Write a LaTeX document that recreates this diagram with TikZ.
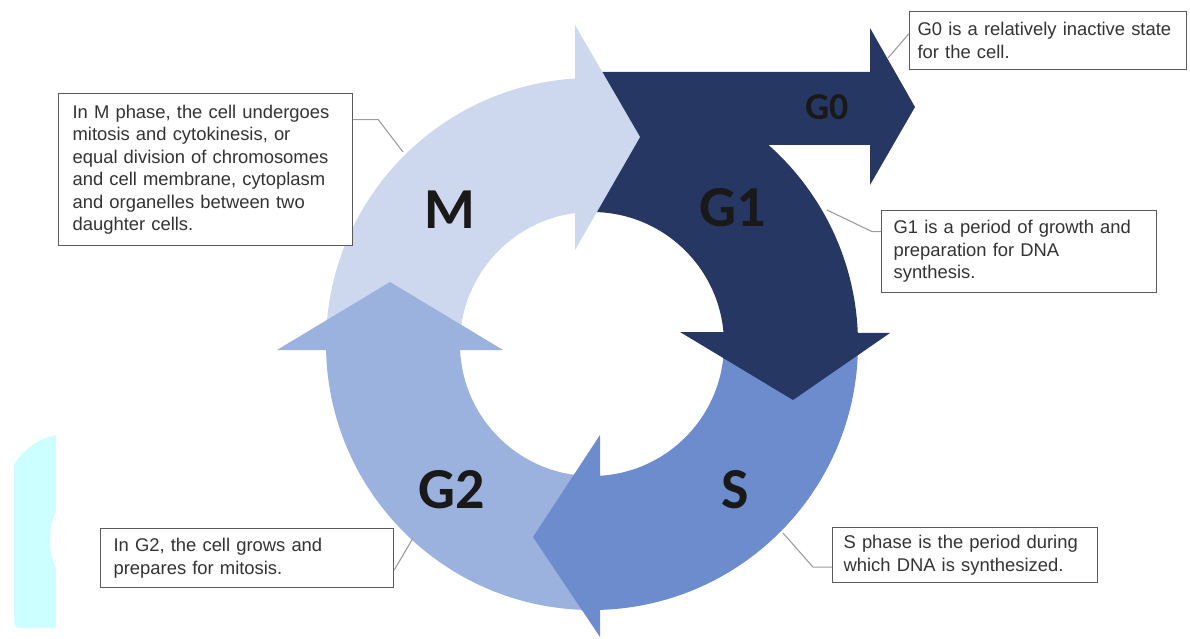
\documentclass[tikz,border=0pt]{standalone}
\usepackage{fontspec}
\setmainfont{Liberation Sans}
\newfontfamily\phasefont{Carlito}
\usetikzlibrary{positioning}

\definecolor{colM}{HTML}{CDD7EE}
\definecolor{colGtwo}{HTML}{9BB1DE}
\definecolor{colS}{HTML}{6C8CCE}
\definecolor{colGone}{HTML}{263763}
\definecolor{boxline}{HTML}{5A5A5A}
\definecolor{linkline}{HTML}{9C9C9C}
\definecolor{boxtext}{HTML}{333333}
\definecolor{cyanbg}{HTML}{CCFFFF}

\begin{document}
\begin{tikzpicture}[x=1pt, y=-1pt,
  box/.style={draw=boxline, line width=1.2pt, fill=white, anchor=north west, align=left, text=boxtext, font=\fontsize{18.4}{22.5}\selectfont, inner ysep=0pt},
  phase/.style={font=\phasefont\bfseries\fontsize{58}{58}\selectfont, text=black!90},
  link/.style={draw=linkline, line width=1.1pt}]

\useasboundingbox (0,0) rectangle (1190,639);

% cyan patch at the left edge
\fill[cyanbg] (56,435) -- (56,512) .. controls (48,525) and (48,555) .. (56,568) -- (56,628) -- (20,628) .. controls (15,628) and (14,624) .. (14,620) -- (14,465) .. controls (22,450) and (40,438) .. (56,435) -- cycle;

% ring segments
\begin{scope}[shift={(592,344)}]
\foreach \a/\col in {180/colM, 270/colGone, 0/colS, 90/colGtwo}
  \fill[\col] (\a:266) arc[start angle=\a, end angle=\a+90, radius=266] -- ({\a+90}:132) arc[start angle=\a+90, end angle=\a, radius=132] -- cycle;
\end{scope}

% G0 branch
\fill[colGone] (585,72) -- (870,72) -- (870,28) -- (915,107) -- (870,185) -- (870,145) -- (585,145) -- cycle;

% arrow heads
\fill[colM] (575,25) -- (640,137) -- (575,250) -- cycle;
\fill[colGone] (680,332) -- (890,333) -- (793,400) -- cycle;
\fill[colS] (600,435) -- (533,537) -- (600,637) -- cycle;
\fill[colGtwo] (277,350) -- (390,282) -- (503,350) -- cycle;

% phase labels
\node[phase] (M) at (450,210) {M};
\node[phase] (G1) at (733,208) {G1};
\node[phase] (S) at (735,490) {S};
\node[phase] (G2) at (452,490) {G2};
\node[phase, font=\phasefont\bfseries\fontsize{38}{38}\selectfont] (G0) at (827,107) {G0};

% text boxes
\node[box, text width=266, inner xsep=14, minimum height=152] (box_M) at (58,93) {In M phase, the cell undergoes\\ mitosis and cytokinesis, or\\ equal division of chromosomes\\ and cell membrane, cytoplasm\\ and organelles between two\\ daughter cells.};
\node[box, text width=261, inner xsep=8, minimum height=58] (box_G0) at (909,11) {G0 is a relatively inactive state\\ for the cell.};
\node[box, text width=251, inner xsep=12, minimum height=82] (box_G1) at (881,210) {G1 is a period of growth and\\ preparation for DNA\\ synthesis.};
\node[box, text width=243, inner xsep=11, minimum height=55] (box_S) at (832,527) {S phase is the period during\\ which DNA is synthesized.};
\node[box, text width=267, inner xsep=13, minimum height=59] (box_G2) at (100,528) {In G2, the cell grows and\\ prepares for mitosis.};

% Connectors
\coordinate (ring_M) at (403,152);
\coordinate (head_G0) at (888,58);
\coordinate (ring_G1) at (827,210);
\coordinate (ring_S) at (783,533);
\coordinate (ring_G2) at (413,538);
\draw[link] ([yshift=50pt]box_M.east) -- ++(25,0) -- (ring_M);
\draw[link] ([yshift=7pt]box_G0.west) -- (head_G0);
\draw[link] ([yshift=20pt]box_G1.west) -- ++(-9,0) -- (ring_G1);
\draw[link] ([yshift=-12pt]box_S.west) -- ++(-19,0) -- (ring_S);
\draw[link] ([yshift=-12pt]box_G2.east) -- (ring_G2);

\end{tikzpicture}
\end{document}
